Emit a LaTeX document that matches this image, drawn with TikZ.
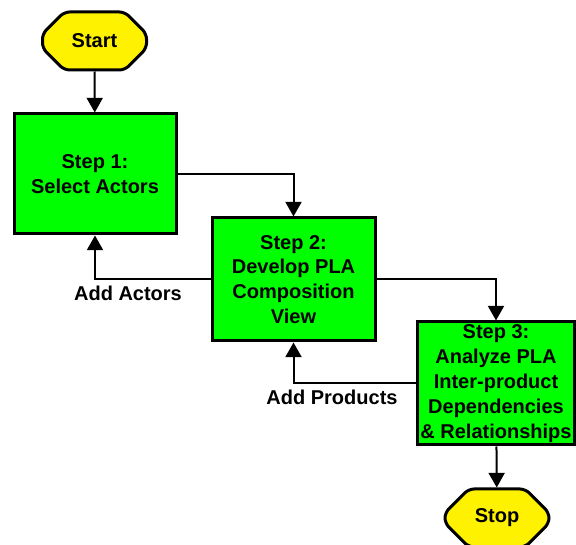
\documentclass[tikz,border=0pt]{standalone}
\usepackage{fontspec}
\setmainfont{Liberation Sans}
\usetikzlibrary{arrows.meta,shapes.misc}

\tikzset{every picture/.style={line width=0.75pt}}
\tikzset{
  stepbox/.style={draw, line width=2.25pt, fill=green, align=center, inner sep=0pt,
    font=\fontsize{15}{18.6}\selectfont\bfseries},
  termbox/.style={draw, line width=2.25pt, fill=yellow, chamfered rectangle,
    chamfered rectangle xsep=7pt, chamfered rectangle ysep=11pt, inner sep=0pt,
    rounded corners=4pt, minimum width=78pt, minimum height=43.5pt,
    font=\fontsize{15}{18}\selectfont\bfseries},
  flow/.style={line width=1.5pt, -{Triangle[width=12pt,length=11pt]}},
  note/.style={font=\fontsize{15}{18}\selectfont\bfseries, inner sep=0.75pt}
}

\begin{document}
\begin{tikzpicture}[x=0.75pt,y=0.75pt,yscale=-1,xscale=1]

\useasboundingbox (0,0) rectangle (576,545);

\node (start) at (94.5,41) [termbox] {Start};
\node (stop) at (497,518) [termbox] {Stop};

\node (step1) at (95,174) [stepbox, minimum width=121.5pt, minimum height=90pt] {Step 1:\\Select Actors};
\node (step2) at (293.5,279.5) [stepbox, minimum width=122.25pt, minimum height=92.25pt] {Step 2:\\Develop PLA\\Composition\\View};
\node (step3) at (496,383.5) [stepbox, minimum width=117.75pt, minimum height=92.25pt] {Step 3:\\Analyze PLA\\Inter-product\\Dependencies\\\& Relationships};

% forward flow
\draw [flow] (start) -- (step1);
\draw [flow] (step1.east) -| (step2.north);
\draw [flow] (step2.east) -| (step3.north);
\draw [flow] (step3) -- (stop);

% feedback
\draw [flow] (step2.west) -| (step1.south);
\draw [flow] (step3.west) -| (step2.south);

\node (addact) at (128,293) [note] {Add Actors};
\node (addprod) at (332,397) [note] {Add Products};

\end{tikzpicture}
\end{document}
